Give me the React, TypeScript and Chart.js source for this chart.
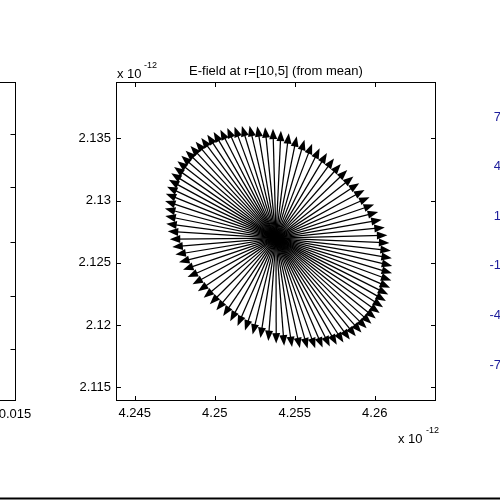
import React, { useEffect, useRef } from "react";
import { Chart, registerables } from "chart.js";

Chart.register(...registerables);

// Quiver data (units of 1e-12)
const tailPoint = [4.25383, 2.12699];
const tipCenter = [4.25399, 2.12707];
// Tip offsets from tipCenter, in units of 1e-3 (x 1e-12)
const tipDx = [
  5.806, 5.506, 5.18, 4.828, 4.453, 4.056, 3.639, 3.204, 2.754, 2.291, 1.815, 1.332, 0.843, 0.349, -0.147,
  -0.642, -1.135, -1.621, -2.1, -2.568, -3.024, -3.464, -3.889, -4.295, -4.678, -5.04, -5.376, -5.688, -5.971,
  -6.225, -6.448, -6.641, -6.801, -6.927, -7.02, -7.079, -7.103, -7.092, -7.048, -6.969, -6.856, -6.709, -6.53,
  -6.32, -6.078,
  -5.806, -5.506, -5.18, -4.828, -4.453, -4.056, -3.639, -3.204, -2.754, -2.291, -1.815, -1.332, -0.843, -0.349,
  0.147, 0.642, 1.135, 1.621, 2.1, 2.568, 3.024, 3.464, 3.889, 4.295, 4.678, 5.04, 5.376, 5.688, 5.971, 6.225,
  6.448, 6.641, 6.801, 6.927, 7.02, 7.079, 7.103, 7.092, 7.048, 6.969, 6.856, 6.709, 6.53, 6.32, 6.078,
];
const tipDy = [
  -6.951, -7.327, -7.668, -7.97, -8.235, -8.459, -8.641, -8.782, -8.879, -8.935, -8.946, -8.914, -8.838, -8.72,
  -8.558, -8.355, -8.111, -7.828, -7.507, -7.148, -6.755, -6.329, -5.874, -5.388, -4.877, -4.341, -3.786, -3.211,
  -2.62, -2.017, -1.403, -0.784, -0.16, 0.464, 1.086, 1.702, 2.311, 2.909, 3.492, 4.059, 4.605, 5.129, 5.628,
  6.1, 6.541,
  6.951, 7.327, 7.668, 7.97, 8.235, 8.459, 8.641, 8.782, 8.879, 8.935, 8.946, 8.914, 8.838, 8.72, 8.558, 8.355,
  8.111, 7.828, 7.507, 7.148, 6.755, 6.329, 5.874, 5.388, 4.877, 4.341, 3.786, 3.211, 2.62, 2.017, 1.403, 0.784,
  0.16, -0.464, -1.086, -1.702, -2.311, -2.909, -3.492, -4.059, -4.605, -5.129, -5.628, -6.1, -6.541,
];

const xTicks = [4.245, 4.25, 4.255, 4.26];
const yTicks = [2.115, 2.12, 2.125, 2.13, 2.135];
const xRange = [4.24383, 4.26383];
const yRange = [2.1139, 2.13954];

const titleText = "E-field at r=[10,5] (from mean)";
const leftPlotTickLabel = "0.015";
const rightPlotLabels = ["7", "4", "1", "-1", "-4", "-7"];

const FONT = "'Liberation Sans', Arial, Helvetica, sans-serif";

const quiverPlugin = {
  id: "quiver",
  afterDatasetsDraw(chart: any) {
    const ctx = chart.ctx;
    const xs = chart.scales.x;
    const ys = chart.scales.y;
    const tx = xs.getPixelForValue(tailPoint[0]);
    const ty = ys.getPixelForValue(tailPoint[1]);
    ctx.save();
    ctx.strokeStyle = "#000";
    ctx.fillStyle = "#000";
    ctx.lineWidth = 1.25;
    const L = 10.5;
    const W = 4;
    for (let i = 0; i < tipDx.length; i++) {
      const px = xs.getPixelForValue(tipCenter[0] + tipDx[i] * 1e-3);
      const py = ys.getPixelForValue(tipCenter[1] + tipDy[i] * 1e-3);
      const dx = px - tx;
      const dy = py - ty;
      const len = Math.hypot(dx, dy);
      const ux = dx / len;
      const uy = dy / len;
      ctx.beginPath();
      ctx.moveTo(tx, ty);
      ctx.lineTo(px - ux * L * 0.5, py - uy * L * 0.5);
      ctx.stroke();
      ctx.beginPath();
      ctx.moveTo(px, py);
      ctx.lineTo(px - ux * L - uy * W, py - uy * L + ux * W);
      ctx.lineTo(px - ux * L + uy * W, py - uy * L - ux * W);
      ctx.closePath();
      ctx.fill();
    }
    ctx.restore();
  },
  afterDraw(chart: any) {
    const ctx = chart.ctx;
    const { left, right, top, bottom } = chart.chartArea;
    const xs = chart.scales.x;
    const ys = chart.scales.y;
    ctx.save();
    ctx.strokeStyle = "#000";
    ctx.lineWidth = 1;
    // box
    ctx.strokeRect(Math.round(left) + 0.5, Math.round(top) + 0.5, Math.round(right - left) - 1, Math.round(bottom - top) - 1);
    // ticks
    const tl = 5;
    ctx.beginPath();
    for (const v of xTicks) {
      const p = Math.round(xs.getPixelForValue(v)) + 0.5;
      ctx.moveTo(p, bottom);
      ctx.lineTo(p, bottom - tl);
      ctx.moveTo(p, top);
      ctx.lineTo(p, top + tl);
    }
    for (const v of yTicks) {
      const p = Math.round(ys.getPixelForValue(v)) + 0.5;
      ctx.moveTo(left, p);
      ctx.lineTo(left + tl, p);
      ctx.moveTo(right, p);
      ctx.lineTo(right - tl, p);
    }
    ctx.stroke();

    // title and exponent labels
    ctx.fillStyle = "#000";
    ctx.font = `13px ${FONT}`;
    ctx.textAlign = "center";
    ctx.textBaseline = "alphabetic";
    ctx.fillText(titleText, (left + right) / 2, 75);
    ctx.textAlign = "left";
    ctx.fillText("x 10", left + 1, 78);
    ctx.fillText("x 10", right - 38, 443);
    ctx.font = `9px ${FONT}`;
    ctx.fillText("-12", left + 28, 68);
    ctx.fillText("-12", right - 10, 433);

    // neighbouring (cropped) left plot
    ctx.beginPath();
    ctx.moveTo(15.5, top);
    ctx.lineTo(15.5, bottom);
    ctx.moveTo(0, top + 0.5);
    ctx.lineTo(15.5, top + 0.5);
    ctx.moveTo(0, bottom - 0.5);
    ctx.lineTo(15.5, bottom - 0.5);
    for (const yy of [134, 187, 242, 296, 349]) {
      ctx.moveTo(15.5, yy + 0.5);
      ctx.lineTo(10.5, yy + 0.5);
    }
    ctx.stroke();
    ctx.font = `13px ${FONT}`;
    ctx.textAlign = "center";
    ctx.textBaseline = "middle";
    ctx.fillText(leftPlotTickLabel, 15, 414);

    // neighbouring (cropped) right plot labels
    ctx.fillStyle = "#1e1e9c";
    ctx.textAlign = "right";
    rightPlotLabels.forEach((t, i) => {
      ctx.fillText(t, 501, 117 + i * 49.6);
    });

    // bottom rule
    ctx.fillStyle = "#000";
    ctx.fillRect(0, 497.5, 500, 2);
    ctx.restore();
  },
};

export default function App() {
  const ref = useRef<HTMLCanvasElement>(null);
  useEffect(() => {
    if (!ref.current) return;
    Chart.defaults.color = "#000";
    Chart.defaults.font.family = FONT;
    const data = tipDx.map((d, i) => ({
      x: tipCenter[0] + d * 1e-3,
      y: tipCenter[1] + tipDy[i] * 1e-3,
    }));
    const chart = new Chart(ref.current, {
      type: "scatter",
      data: {
        datasets: [
          {
            data,
            pointRadius: 0,
            showLine: false,
          },
        ],
      },
      options: {
        animation: false,
        responsive: false,
        events: [],
        layout: { padding: { left: 0, top: 82, right: 64, bottom: 0 } },
        plugins: { legend: { display: false }, tooltip: { enabled: false }, title: { display: false } },
        scales: {
          x: {
            type: "linear",
            min: xRange[0],
            max: xRange[1],
            grid: { display: false, drawTicks: false },
            border: { display: false },
            afterBuildTicks: (s: any) => {
              s.ticks = xTicks.map((v) => ({ value: v }));
            },
            afterFit: (s: any) => {
              s.height = 99;
            },
            ticks: {
              padding: 5,
              font: { size: 13, family: FONT },
              color: "#000",
              maxRotation: 0,
              autoSkip: false,
              callback: (v: any) => String(v),
            },
          },
          y: {
            type: "linear",
            min: yRange[0],
            max: yRange[1],
            grid: { display: false, drawTicks: false },
            border: { display: false },
            afterBuildTicks: (s: any) => {
              s.ticks = yTicks.map((v) => ({ value: v }));
            },
            afterFit: (s: any) => {
              s.width = 116;
            },
            ticks: {
              padding: 5,
              font: { size: 13, family: FONT },
              color: "#000",
              autoSkip: false,
              callback: (v: any) => String(v),
            },
          },
        },
      },
      plugins: [quiverPlugin],
    });
    return () => chart.destroy();
  }, []);
  return (
    <canvas
      ref={ref}
      width={500}
      height={500}
      style={{ position: "fixed", left: 0, top: 0, width: 500, height: 500, background: "#fff" }}
    />
  );
}
